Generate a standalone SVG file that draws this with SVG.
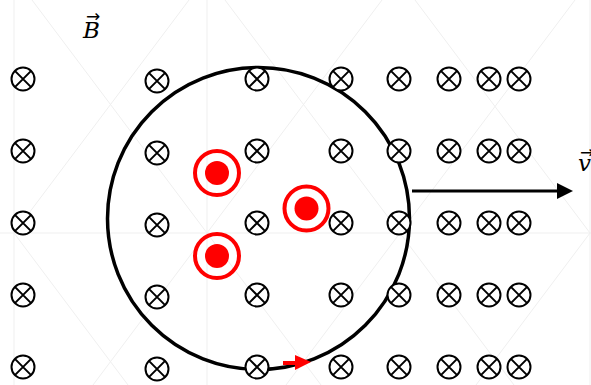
<svg xmlns="http://www.w3.org/2000/svg" width="591" height="385" viewBox="0 0 591 385">
<style>
.wm{stroke:#efefef;stroke-width:1;fill:none}
.loop{fill:none;stroke:#000;stroke-width:3.5}
.ring{fill:none;stroke:#ff0000;stroke-width:4}
.dot{fill:#ff0000}
.lbl{font-family:"DejaVu Serif","Liberation Serif",serif;font-style:italic;font-size:23px;fill:#000}
.vec{font-family:"DejaVu Sans","Liberation Sans",sans-serif;font-style:normal;font-size:17px}
</style>
<defs>
<g id="xs">
<circle r="11.5" fill="#fff" stroke="#000" stroke-width="2"/>
<path d="M-8.1,-8.1L8.1,8.1M-8.1,8.1L8.1,-8.1" stroke="#000" stroke-width="2"/>
</g>
</defs>
<rect width="591" height="385" fill="#fff"/>
<g id="watermark">
<path class="wm" d="M14,0V385M207,0V385M590,0V385M0,233H591M14,233L189,0M207,233L32,0M207,233L382,0M400,233L225,0M400,233L575,0M590,233L415,0M14,233L128,385M207,233L93,385M207,233L321,385M400,233L286,385M400,233L514,385M590,233L476,385"/>
</g>
<g id="loop">
<circle class="loop" cx="258.5" cy="218.5" r="151"/>
</g>
<g id="field">
<use href="#xs" x="23" y="79"/><use href="#xs" x="157" y="81"/><use href="#xs" x="257" y="79"/><use href="#xs" x="341" y="79"/><use href="#xs" x="399" y="79"/><use href="#xs" x="449" y="79"/><use href="#xs" x="489" y="79"/><use href="#xs" x="519" y="79"/>
<use href="#xs" x="23" y="151"/><use href="#xs" x="157" y="153"/><use href="#xs" x="257" y="151"/><use href="#xs" x="341" y="151"/><use href="#xs" x="399" y="151"/><use href="#xs" x="449" y="151"/><use href="#xs" x="489" y="151"/><use href="#xs" x="519" y="151"/>
<use href="#xs" x="23" y="223"/><use href="#xs" x="157" y="225"/><use href="#xs" x="257" y="223"/><use href="#xs" x="341" y="223"/><use href="#xs" x="399" y="223"/><use href="#xs" x="449" y="223"/><use href="#xs" x="489" y="223"/><use href="#xs" x="519" y="223"/>
<use href="#xs" x="23" y="295"/><use href="#xs" x="157" y="297"/><use href="#xs" x="257" y="295"/><use href="#xs" x="341" y="295"/><use href="#xs" x="399" y="295"/><use href="#xs" x="449" y="295"/><use href="#xs" x="489" y="295"/><use href="#xs" x="519" y="295"/>
<use href="#xs" x="23" y="367"/><use href="#xs" x="157" y="369"/><use href="#xs" x="257" y="367"/><use href="#xs" x="341" y="367"/><use href="#xs" x="399" y="367"/><use href="#xs" x="449" y="367"/><use href="#xs" x="489" y="367"/><use href="#xs" x="519" y="367"/>
</g>
<g id="charge1"><circle class="ring" cx="217" cy="173" r="22"/><circle class="dot" cx="217" cy="173" r="12"/></g>
<g id="charge2"><circle class="ring" cx="306.5" cy="208.5" r="22"/><circle class="dot" cx="306.5" cy="208.5" r="12"/></g>
<g id="charge3"><circle class="ring" cx="217" cy="256" r="22"/><circle class="dot" cx="217" cy="256" r="12"/></g>
<g id="connectors">
<line x1="412" y1="191" x2="559" y2="191" stroke="#000" stroke-width="3"/>
<polygon points="557,183 573,191 557,199" fill="#000"/>
<line x1="283" y1="363" x2="298" y2="363" stroke="#ff0000" stroke-width="4"/>
<polygon points="295,355 311,362 295,370" fill="#ff0000"/>
</g>
<g id="labels">
<text class="lbl" x="83" y="38">B<tspan class="vec" x="86" y="22">→</tspan></text>
<text class="lbl" x="578" y="171">v<tspan class="vec" x="580" y="158">→</tspan></text>
</g>
</svg>
